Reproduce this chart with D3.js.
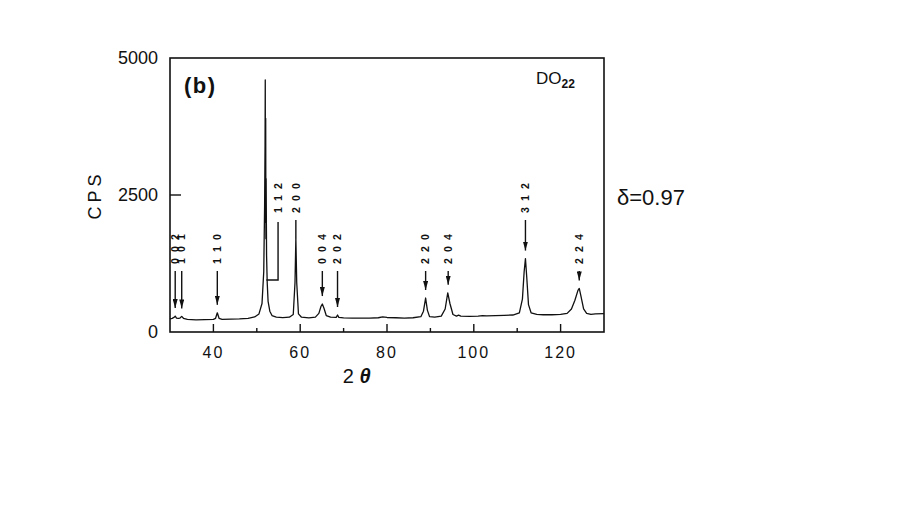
<!DOCTYPE html>
<html>
<head>
<meta charset="utf-8">
<script src="https://cdn.jsdelivr.net/npm/d3@7"></script>
<style>
  body { margin: 0; background: #fff; }
  text { font-family: "Liberation Sans", Arial, sans-serif; fill: #111; }
</style>
</head>
<body>
<div id="chart"></div>
<script>
// Pattern: 2theta (deg) and counts (CPS)
var twoTheta = [30, 30.5, 31.0, 31.2, 31.5, 31.9, 32.3, 32.7, 33.1, 34, 36, 38, 40, 40.5, 40.9, 41.3, 42, 44, 46, 48,
  49.5, 50.5, 51.2, 51.6, 51.8, 51.9, 51.95, 52.0, 52.05, 52.1, 52.15, 52.25, 52.4, 52.6, 53, 53.5, 54.5, 56, 57.5,
  58.4, 58.8, 59.0, 59.2, 59.6, 60.3, 62, 63.5, 64.3, 64.8, 65.1, 65.5, 66, 67, 68.3, 68.6, 68.9, 70, 72, 74, 76,
  78, 79, 80, 82, 84, 86, 87.8, 88.4, 88.9, 89.3, 89.8, 91, 92.5, 93.4, 94.0, 94.5, 95.2, 96, 96.5, 97, 99, 101,
  102, 103, 105, 107, 109, 110.5, 111.2, 111.6, 111.9, 112.2, 112.6, 113.2, 114.5, 116, 118, 120, 121.5, 122.5,
  123.3, 124.0, 124.3, 124.7, 125.3, 126, 127, 128, 130];
var cps = [240, 250, 270, 290, 255, 250, 255, 285, 250, 230, 222, 225, 230, 250, 350, 250, 232, 235, 240, 250,
  275, 330, 520, 1100, 2300, 3400, 4600, 2000, 3900, 1700, 2800, 1400, 900, 560, 380, 300, 272, 262, 270,
  320, 900, 1710, 900, 330, 270, 258, 272, 340, 470, 510, 430, 300, 270, 268, 310, 268, 258, 255, 255, 255,
  260, 275, 265, 260, 255, 260, 280, 380, 620, 400, 280, 270, 290, 420, 715, 520, 320, 290, 308, 290, 285, 290,
  300, 295, 300, 305, 310, 350, 600, 1100, 1340, 1000, 500, 350, 320, 315, 315, 320, 340, 420,
  580, 760, 795, 650, 420, 340, 320, 330, 335];

// Reflection labels: position, peak height, row (low / high), marker type
var hkl = ["0 0 2", "1 0 1", "1 1 0", "2 0 0", "0 0 4", "2 0 2", "2 2 0", "2 0 4", "3 1 2", "2 2 4"];
var hklPos = [31.2, 32.7, 40.9, 59.0, 65.1, 68.6, 88.9, 94.1, 111.9, 124.3];
var hklPeak = [290, 285, 350, 1710, 510, 310, 620, 715, 1340, 795];
var hklRow = ["low", "low", "low", "high", "low", "low", "low", "low", "high", "low"];
var hklMark = ["arrow", "arrow", "arrow", "line", "arrow", "arrow", "arrow", "arrow", "arrow", "arrow"];

// 112 sits under the main peak, shown with a bracket
var label112 = "1 1 2", pos112 = 54.9, main112 = 52.2, level112 = 950;

var xTicks = [40, 60, 80, 100, 120];
var xMinor = [50, 70, 90, 110];
var yTicks = [0, 2500, 5000];

var width = 900, height = 506;
var margin = { left: 170, right: 296, top: 58, bottom: 174 };

var svg = d3.select("#chart").append("svg")
    .attr("width", width)
    .attr("height", height);

var x = d3.scaleLinear().domain([30, 130]).range([margin.left, width - margin.right]);
var y = d3.scaleLinear().domain([0, 5000]).range([height - margin.bottom, margin.top]);

var x0 = x.range()[0], x1 = x.range()[1], y0 = y.range()[0], y1 = y.range()[1];

// frame
svg.append("rect")
    .attr("x", x0).attr("y", y1)
    .attr("width", x1 - x0).attr("height", y0 - y1)
    .attr("fill", "none").attr("stroke", "#111").attr("stroke-width", 1.6);

// x ticks point inwards
svg.selectAll(".xmaj").data(xTicks).enter().append("line")
    .attr("x1", d => x(d)).attr("x2", d => x(d))
    .attr("y1", y0).attr("y2", y0 - 8)
    .attr("stroke", "#111").attr("stroke-width", 1.4);
svg.selectAll(".xmin").data(xMinor).enter().append("line")
    .attr("x1", d => x(d)).attr("x2", d => x(d))
    .attr("y1", y0).attr("y2", y0 - 4)
    .attr("stroke", "#111").attr("stroke-width", 1.4);
svg.selectAll(".xlab").data(xTicks).enter().append("text")
    .attr("x", d => x(d)).attr("y", y0 + 26)
    .attr("text-anchor", "middle")
    .attr("font-size", 16).attr("letter-spacing", 2)
    .text(d => d);

// y ticks
svg.append("line")
    .attr("x1", x0).attr("x2", x0 + 11)
    .attr("y1", y(2500)).attr("y2", y(2500))
    .attr("stroke", "#111").attr("stroke-width", 1.4);
svg.selectAll(".ylab").data(yTicks).enter().append("text")
    .attr("x", x0 - 12).attr("y", d => y(d) + 6)
    .attr("text-anchor", "end")
    .attr("font-size", 18)
    .text(d => d);

// axis titles
svg.append("text")
    .attr("transform", "translate(101," + y(2500) + ") rotate(-90)")
    .attr("text-anchor", "middle")
    .attr("font-size", 18).attr("letter-spacing", 4)
    .text("CPS");
var xt = svg.append("text")
    .attr("x", x(73)).attr("y", y0 + 51)
    .attr("text-anchor", "middle")
    .attr("font-size", 20);
xt.append("tspan").text("2 ");
xt.append("tspan").attr("font-weight", "bold").attr("font-style", "italic").text("θ");

// spectrum
var line = d3.line()
    .x((d, i) => x(twoTheta[i]))
    .y(d => y(d));
svg.append("path")
    .datum(cps)
    .attr("d", line)
    .attr("fill", "none")
    .attr("stroke", "#111")
    .attr("stroke-width", 1.3)
    .attr("stroke-linejoin", "round");

// reflection labels
var rowBase = { low: y0 - 68, high: y0 - 119 };
svg.append("defs").append("marker")
    .attr("id", "ah")
    .attr("viewBox", "0 0 9 5")
    .attr("refX", 9).attr("refY", 2.5)
    .attr("markerUnits", "userSpaceOnUse")
    .attr("markerWidth", 9).attr("markerHeight", 5)
    .attr("orient", "auto")
    .append("path").attr("d", "M0,0 L9,2.5 L0,5 Z").attr("fill", "#111");

hkl.forEach(function (h, i) {
    var px = x(hklPos[i]);
    var base = rowBase[hklRow[i]];
    svg.append("text")
        .attr("transform", "translate(" + px + "," + base + ") rotate(-90)")
        .attr("dy", "0.36em")
        .attr("font-size", 10.5).attr("font-weight", "bold").attr("letter-spacing", 1.6)
        .text(h);
    var tip = y(hklPeak[i]) - (hklMark[i] === "arrow" ? 8 : 0);
    var l = svg.append("line")
        .attr("x1", px).attr("x2", px)
        .attr("y1", base + 7).attr("y2", tip)
        .attr("stroke", "#111").attr("stroke-width", 1.4);
    if (hklMark[i] === "arrow") l.attr("marker-end", "url(#ah)");
});

// 112 bracket
var bx = x(pos112), bBase = rowBase.high;
svg.append("text")
    .attr("transform", "translate(" + bx + "," + bBase + ") rotate(-90)")
    .attr("dy", "0.36em")
    .attr("font-size", 10.5).attr("font-weight", "bold").attr("letter-spacing", 1.6)
    .text(label112);
svg.append("path")
    .attr("d", "M" + bx + "," + (bBase + 9) + "V" + y(level112) + "H" + x(main112))
    .attr("fill", "none").attr("stroke", "#111").attr("stroke-width", 1.4);

// panel texts
svg.append("text")
    .attr("x", x0 + 14).attr("y", y1 + 35)
    .attr("font-size", 22).attr("font-weight", "bold").attr("letter-spacing", 1.5)
    .text("(b)");
var dt = svg.append("text")
    .attr("x", 536).attr("y", y1 + 26)
    .attr("font-size", 17);
dt.append("tspan").text("DO");
dt.append("tspan").attr("font-size", 12).attr("font-weight", "bold").attr("dy", 4).text("22");

svg.append("text")
    .attr("x", 617).attr("y", y(2500) + 10)
    .attr("font-size", 22)
    .text("δ=0.97");
</script>
</body>
</html>
